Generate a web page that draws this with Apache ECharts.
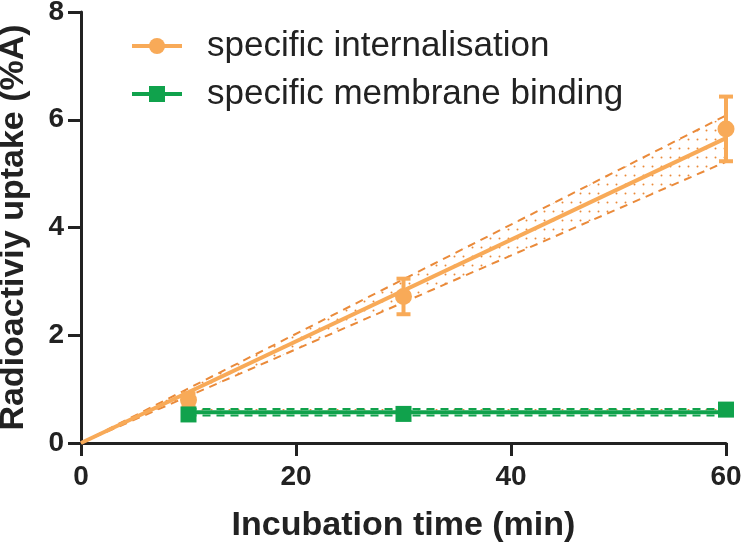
<!DOCTYPE html>
<html>
<head>
<meta charset="utf-8">
<script src="https://cdn.jsdelivr.net/npm/echarts@6/dist/echarts.min.js"></script>
<style>
    html, body { margin: 0; padding: 0; background: #fff; }
    #chart { width: 743px; height: 543px; }
</style>
</head>
<body>
<div id="chart"></div>
<script>
    // measured points (time in min, uptake %A, SD)
    const times = [10, 30, 60];
    const internalisation = [0.8, 2.72, 5.83];
    const internalisationErr = [0.12, 0.33, 0.6];
    const membrane = [0.53, 0.54, 0.62];

    // fitted lines and 95% bands
    const intFitX = [0, 60];
    const intFit = [0, 5.66];
    const intUpper = [0, 6.08];
    const intLower = [0, 5.22];
    const memFitX = [10, 60];
    const memFit = [0.57, 0.57];
    const memUpper = [0.63, 0.63];
    const memLower = [0.51, 0.51];

    const xTicks = [0, 20, 40, 60];
    const yTicks = [0, 2, 4, 6, 8];

    const orange = '#F8AA58';
    const orangeDark = '#EA8A3A';
    const green = '#10A24C';
    const font = '"Liberation Sans", Arial, sans-serif';

    // dotted fill for the confidence band
    const dots = document.createElement('canvas');
    dots.width = 9;
    dots.height = 9;
    const dctx = dots.getContext('2d');
    dctx.fillStyle = orangeDark;
    dctx.beginPath();
    dctx.arc(4.5, 4.5, 1, 0, Math.PI * 2);
    dctx.fill();

    const pairs = (xs, ys) => xs.map((x, i) => [x, ys[i]]);

    function bandSeries(xs, lo, hi, fill) {
        return {
            type: 'custom',
            silent: true,
            data: [0],
            z: 1,
            renderItem: function (params, api) {
                const pts = [];
                xs.forEach((x, i) => pts.push(api.coord([x, hi[i]])));
                for (let i = xs.length - 1; i >= 0; i--) pts.push(api.coord([xs[i], lo[i]]));
                return {
                    type: 'polygon',
                    shape: { points: pts },
                    style: { fill: fill, stroke: null }
                };
            }
        };
    }

    function dashed(xs, ys, color) {
        return {
            type: 'line',
            data: pairs(xs, ys),
            symbol: 'none',
            silent: true,
            z: 2,
            lineStyle: { color: color, width: 2, type: [8, 6] }
        };
    }

    const chart = echarts.init(document.getElementById('chart'));
    chart.setOption({
        animation: false,
        grid: { left: 81, right: 17, top: 12, bottom: 100, containLabel: false, outerBoundsMode: 'none' },
        legend: {
            left: 125,
            top: 23,
            orient: 'vertical',
            itemWidth: 50,
            itemHeight: 20,
            itemGap: 12,
            selectedMode: false,
            textStyle: { fontFamily: font, fontSize: 35, lineHeight: 36, color: '#222', padding: [0, 0, 0, 20] },
            data: [
                { name: 'specific internalisation', lineStyle: { width: 4, opacity: 1, color: orange } },
                { name: 'specific membrane binding', lineStyle: { width: 4, opacity: 1, color: green } }
            ]
        },
        xAxis: {
            type: 'value',
            min: 0,
            max: 60,
            interval: 20,
            name: 'Incubation time (min)',
            nameLocation: 'middle',
            nameGap: 66,
            nameTextStyle: { fontFamily: font, fontSize: 34, fontWeight: 'bold', color: '#222' },
            axisLine: { onZero: false, lineStyle: { color: '#222', width: 3 } },
            axisTick: { length: 13, lineStyle: { color: '#222', width: 3 } },
            axisLabel: {
                fontFamily: font, fontSize: 28, fontWeight: 'bold', color: '#222', margin: 20,
                formatter: v => xTicks.includes(v) ? String(v) : ''
            },
            splitLine: { show: false }
        },
        yAxis: {
            type: 'value',
            min: 0,
            max: 8,
            interval: 2,
            name: 'Radioactiviy uptake (%A)',
            nameLocation: 'middle',
            nameGap: 50,
            nameTextStyle: { fontFamily: font, fontSize: 34, fontWeight: 'bold', color: '#222' },
            axisLine: { show: true, onZero: false, lineStyle: { color: '#222', width: 3 } },
            axisTick: { show: true, length: 13, lineStyle: { color: '#222', width: 3 } },
            axisLabel: {
                fontFamily: font, fontSize: 28, fontWeight: 'bold', color: '#222', margin: 17,
                formatter: v => yTicks.includes(v) ? String(v) : ''
            },
            splitLine: { show: false }
        },
        series: [
            bandSeries(intFitX, intLower, intUpper, { image: dots, repeat: 'repeat' }),
            bandSeries(memFitX, memLower, memUpper, { image: dots, repeat: 'repeat' }),
            dashed(intFitX, intUpper, orangeDark),
            dashed(intFitX, intLower, orangeDark),
            dashed(memFitX, memUpper, green),
            dashed(memFitX, memLower, green),
            {
                type: 'line',
                data: pairs(intFitX, intFit),
                symbol: 'none',
                silent: true,
                z: 3,
                lineStyle: { color: orange, width: 4 }
            },
            {
                type: 'line',
                data: pairs(memFitX, memFit),
                symbol: 'none',
                silent: true,
                z: 3,
                lineStyle: { color: green, width: 4 }
            },
            {
                type: 'custom',
                silent: true,
                z: 4,
                data: times.map((t, i) => [t, internalisation[i] - internalisationErr[i], internalisation[i] + internalisationErr[i]]),
                renderItem: function (params, api) {
                    const lo = api.coord([api.value(0), api.value(1)]);
                    const hi = api.coord([api.value(0), api.value(2)]);
                    const w = 7;
                    const st = { stroke: orange, lineWidth: 4 };
                    return {
                        type: 'group',
                        children: [
                            { type: 'line', shape: { x1: lo[0], y1: lo[1], x2: hi[0], y2: hi[1] }, style: st },
                            { type: 'line', shape: { x1: lo[0] - w, y1: lo[1], x2: lo[0] + w, y2: lo[1] }, style: st },
                            { type: 'line', shape: { x1: hi[0] - w, y1: hi[1], x2: hi[0] + w, y2: hi[1] }, style: st }
                        ]
                    };
                }
            },
            {
                name: 'specific internalisation',
                type: 'line',
                data: pairs(times, internalisation),
                symbol: 'circle',
                symbolSize: 17,
                z: 5,
                itemStyle: { color: orange },
                lineStyle: { opacity: 0, color: orange }
            },
            {
                name: 'specific membrane binding',
                type: 'line',
                data: pairs(times, membrane),
                symbol: 'rect',
                symbolSize: 16,
                z: 6,
                itemStyle: { color: green },
                lineStyle: { opacity: 0, color: green }
            }
        ]
    });
</script>
</body>
</html>
